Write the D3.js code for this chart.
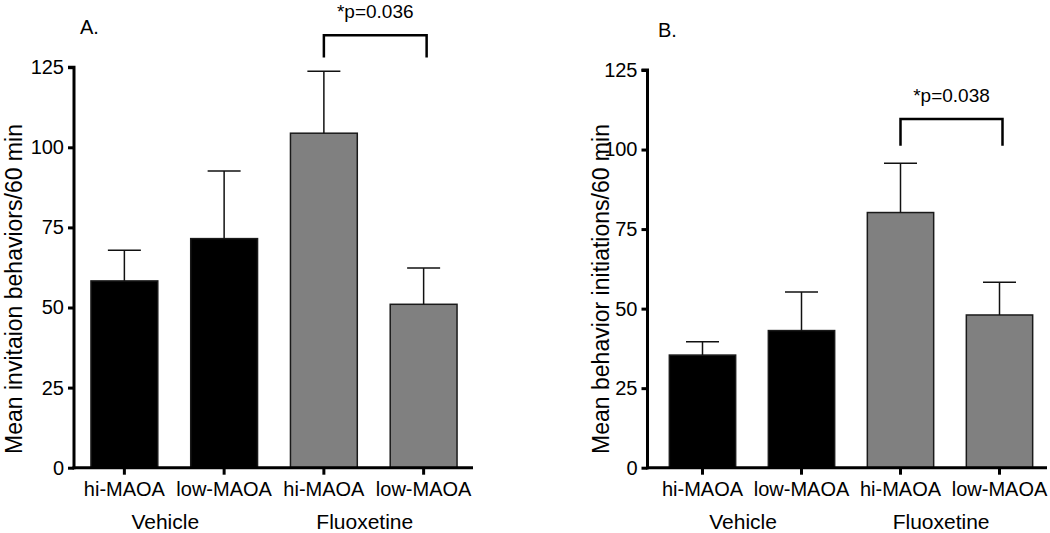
<!DOCTYPE html>
<html>
<head>
<meta charset="utf-8">
<script src="https://cdn.jsdelivr.net/npm/d3@7"></script>
<style>
  html, body { margin: 0; padding: 0; background: #fff; }
  text { font-family: "Liberation Sans", Arial, Helvetica, sans-serif; fill: #000; }
</style>
</head>
<body>
<svg id="chart" width="1050" height="533"></svg>
<script>
// ---- data ----
const categories = ["hi-MAOA", "low-MAOA", "hi-MAOA ", "low-MAOA "];
const categoryLabels = ["hi-MAOA", "low-MAOA", "hi-MAOA", "low-MAOA"];
const groups = ["Vehicle", "Fluoxetine"];
const yTicks = [0, 25, 50, 75, 100, 125];

const meansA = [58.3, 71.5, 104.4, 51.0];
const errA   = [9.6, 21.1, 19.3, 11.3];
const meansB = [35.4, 43.1, 80.2, 48.0];
const errB   = [4.2, 12.1, 15.5, 10.3];

const yLabelA = "Mean invitaion behaviors/60 min";
const yLabelB = "Mean behavior initiations/60 min";
const pA = "*p=0.036";
const pB = "*p=0.038";
const bracketA = [135, 128];
const bracketB = [109.6, 101.2];

const fills = ["#000000", "#000000", "#808080", "#808080"];

const svg = d3.select("#chart");

function panel(opts) {
  const g = svg.append("g");
  const x = d3.scaleBand().domain(categories).range(opts.xRange).paddingInner(0.33).paddingOuter(0.165);
  const y = d3.scaleLinear().domain([0, 125]).range(opts.yRange);

  // bars
  g.selectAll("rect.bar").data(opts.means).enter().append("rect")
    .attr("x", (d, i) => x(categories[i]))
    .attr("y", d => y(d))
    .attr("width", x.bandwidth())
    .attr("height", d => y(0) - y(d))
    .attr("fill", (d, i) => fills[i])
    .attr("stroke", "#1a1a1a")
    .attr("stroke-width", 1.5);

  // error bars (upper only)
  const cx = i => x(categories[i]) + x.bandwidth() / 2;
  opts.means.forEach((m, i) => {
    const top = m + opts.err[i];
    g.append("line").attr("x1", cx(i)).attr("x2", cx(i))
      .attr("y1", y(m)).attr("y2", y(top))
      .attr("stroke", "#111").attr("stroke-width", 1.5);
    g.append("line").attr("x1", cx(i) - 16.5).attr("x2", cx(i) + 16.5)
      .attr("y1", y(top)).attr("y2", y(top))
      .attr("stroke", "#111").attr("stroke-width", 1.5);
  });

  // y axis
  const ya = g.append("g").attr("transform", `translate(${opts.axisX},0)`)
    .call(d3.axisLeft(y).tickValues(yTicks).tickSize(6).tickPadding(4).tickFormat(d3.format("d")));
  ya.select(".domain").attr("stroke", "#000").attr("stroke-width", 3)
    .attr("d", `M-6,${y(125)}H0V${y(0) + 1.5}`);
  ya.selectAll(".tick line").attr("stroke", "#000").attr("stroke-width", 3);
  ya.selectAll(".tick text").style("font-size", "20px").attr("fill", "#000")
    .style("font-family", "'Liberation Sans', Arial, sans-serif");

  // x axis
  const xa = g.append("g").attr("transform", `translate(0,${y(0)})`)
    .call(d3.axisBottom(x).tickSize(7).tickPadding(7).tickFormat((d, i) => categoryLabels[i]));
  xa.select(".domain").attr("stroke", "#000").attr("stroke-width", 3)
    .attr("d", `M${opts.axisX - 1.5},0H${opts.xEnd}`);
  xa.selectAll(".tick line").attr("stroke", "#000").attr("stroke-width", 3);
  xa.selectAll(".tick text").style("font-size", "20px").attr("fill", "#000")
    .style("font-family", "'Liberation Sans', Arial, sans-serif");

  // group labels
  const step = x.step();
  groups.forEach((grp, k) => {
    g.append("text").attr("x", cx(k * 2) + step * 0.41).attr("y", 529)
      .attr("text-anchor", "middle").style("font-size", "21px").text(grp);
  });

  // y label
  g.append("text")
    .attr("transform", `translate(${opts.yLabelX},${289}) rotate(-90)`)
    .attr("text-anchor", "middle").style("font-size", "23px").text(opts.yLabel);

  // panel letter
  g.append("text").attr("x", opts.letterX).attr("y", opts.letterY)
    .style("font-size", "20px").text(opts.letter);

  // significance bracket
  const bx1 = cx(2), bx2 = cx(3) + 3;
  g.append("path")
    .attr("d", `M${bx1},${y(opts.bracket[1])}V${y(opts.bracket[0])}H${bx2}V${y(opts.bracket[1])}`)
    .attr("fill", "none").attr("stroke", "#000").attr("stroke-width", 2.5);
  g.append("text").attr("x", (bx1 + bx2) / 2).attr("y", y(opts.bracket[0]) - 17)
    .attr("text-anchor", "middle").style("font-size", "19px").text(opts.p);
}

panel({
  xRange: [74.5, 473.5], yRange: [467.7, 67.2], axisX: 74, xEnd: 473,
  means: meansA, err: errA, yLabel: yLabelA, yLabelX: 22,
  letter: "A.", letterX: 80, letterY: 34, bracket: bracketA, p: pA
});
panel({
  xRange: [653, 1049], yRange: [467.7, 70], axisX: 647.5, xEnd: 1047,
  means: meansB, err: errB, yLabel: yLabelB, yLabelX: 609,
  letter: "B.", letterX: 658, letterY: 37, bracket: bracketB, p: pB
});
</script>
</body>
</html>
